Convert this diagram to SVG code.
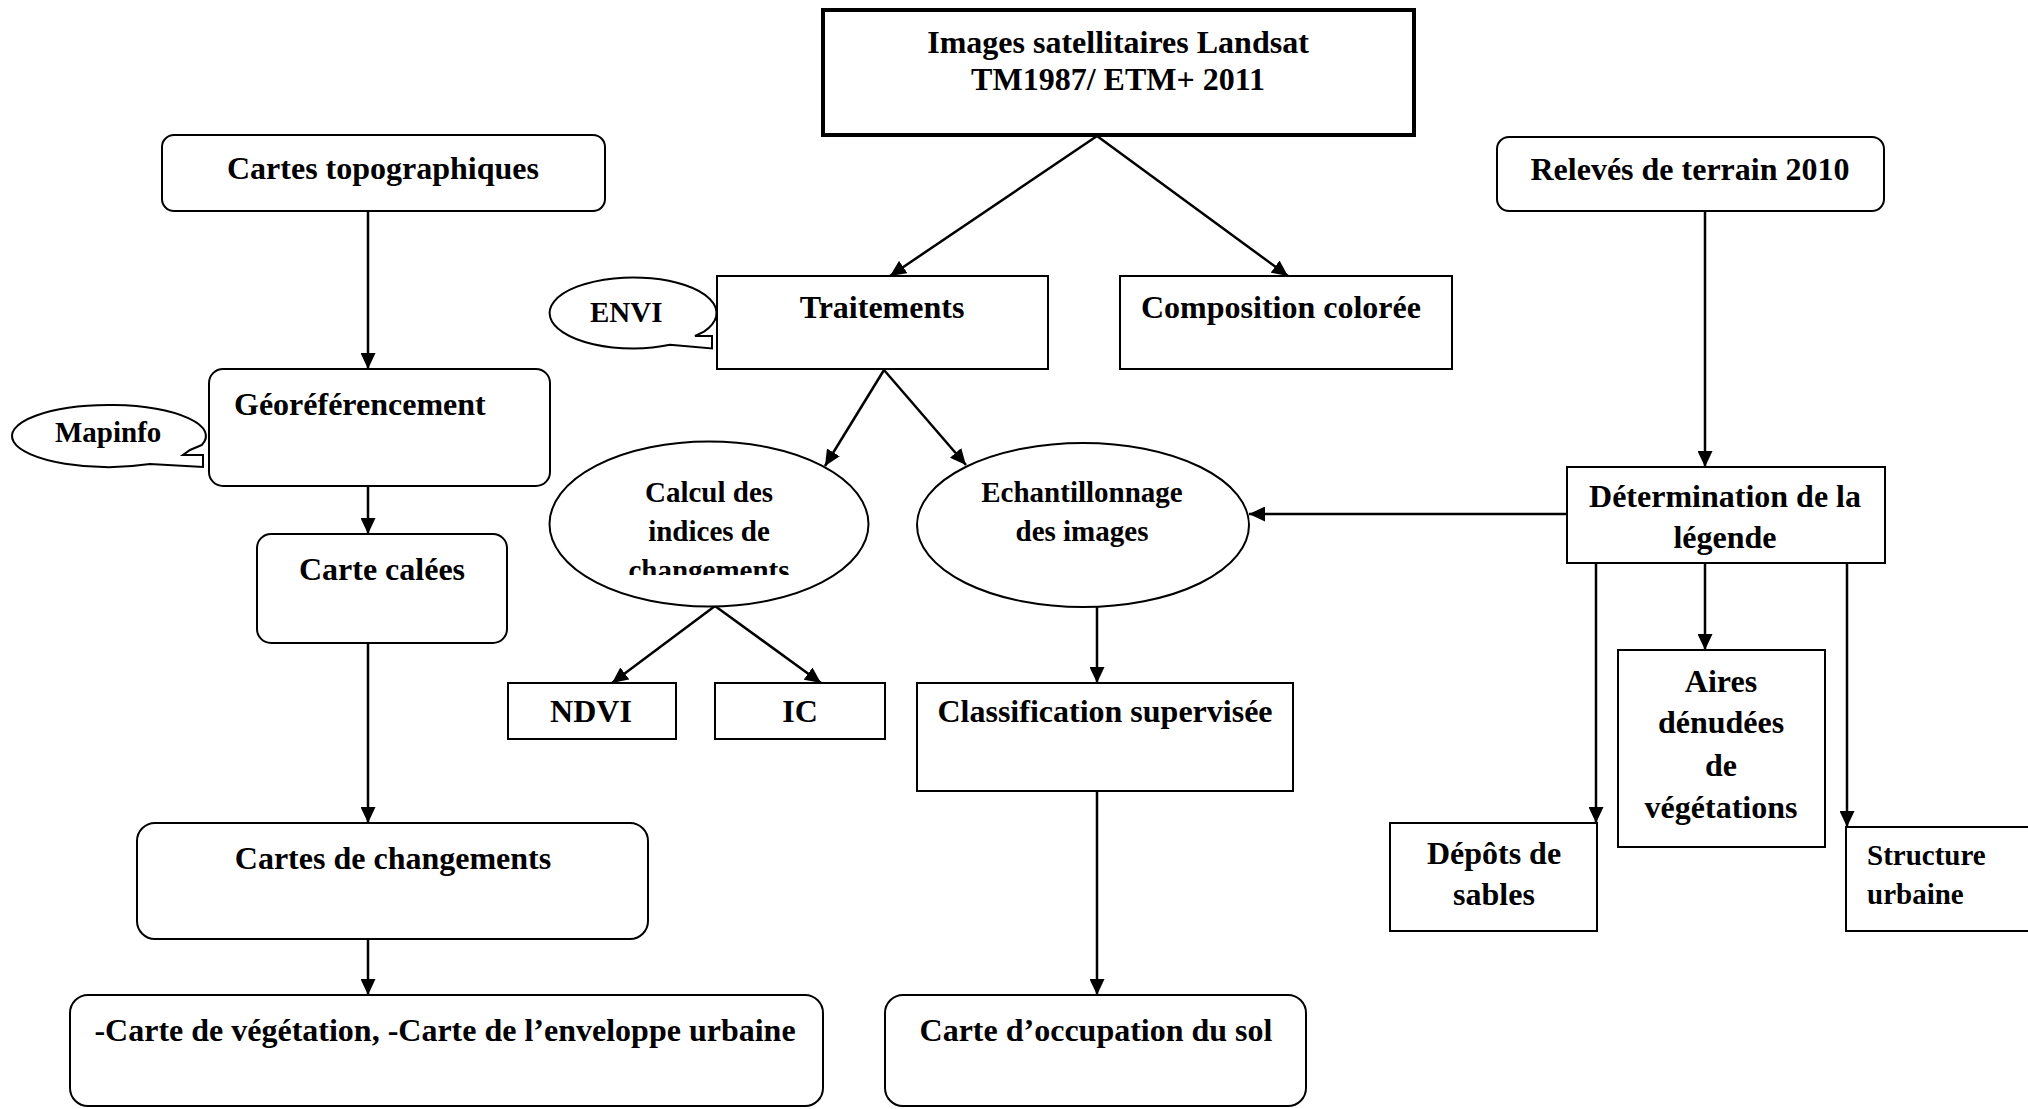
<svg xmlns="http://www.w3.org/2000/svg" width="2028" height="1109" viewBox="0 0 2028 1109">
<style>
.b{fill:#fff;stroke:#000;stroke-width:2}
.t{font-family:"Liberation Serif","Times New Roman",serif;font-weight:bold;font-size:32px;text-anchor:middle;fill:#000}
.s{font-size:29px}
.l{text-anchor:start}
.c line{stroke:#000;stroke-width:2.5;fill:none;marker-end:url(#ah)}
</style>
<defs>
<marker id="ah" markerWidth="16" markerHeight="15" refX="16" refY="7.5" orient="auto" markerUnits="userSpaceOnUse"><path d="M0,0 L16,7.5 L0,15 Z" fill="#000"/></marker>
<clipPath id="clipCalc"><rect x="540" y="440" width="340" height="135"/></clipPath>
</defs>
<rect width="2028" height="1109" fill="#fff"/>

<g id="connectors" class="c">
<line x1="368" y1="211" x2="368" y2="369"/>
<line x1="368" y1="486" x2="368" y2="534"/>
<line x1="368" y1="643" x2="368" y2="823"/>
<line x1="368" y1="939" x2="368" y2="995"/>
<line x1="1097" y1="136" x2="890" y2="276"/>
<line x1="1097" y1="136" x2="1288" y2="276"/>
<line x1="884" y1="370" x2="825" y2="466"/>
<line x1="884" y1="370" x2="966" y2="465"/>
<line x1="715" y1="606" x2="612" y2="683"/>
<line x1="715" y1="606" x2="821" y2="683"/>
<line x1="1097" y1="607" x2="1097" y2="683"/>
<line x1="1097" y1="791" x2="1097" y2="995"/>
<line x1="1705" y1="211" x2="1705" y2="467"/>
<line x1="1567" y1="514" x2="1249" y2="514"/>
<line x1="1596" y1="563" x2="1596" y2="823"/>
<line x1="1705" y1="563" x2="1705" y2="650"/>
<line x1="1847" y1="563" x2="1847" y2="827"/>
</g>

<g id="images">
<rect x="823" y="10" width="591" height="125" fill="#fff" stroke="#000" stroke-width="4"/>
<text class="t" x="1118" y="53">Images satellitaires Landsat</text>
<text class="t" x="1118" y="90">TM1987/ ETM+ 2011</text>
</g>

<g id="cartes-topo">
<rect class="b" x="162" y="135" width="443" height="76" rx="12"/>
<text class="t" x="383" y="179">Cartes topographiques</text>
</g>

<g id="georef">
<rect class="b" x="209" y="369" width="341" height="117" rx="14"/>
<text class="t l" x="234" y="415">Géoréférencement</text>
</g>

<g id="mapinfo">
<path class="b" d="M201.8,445 L190,450 L183,455 L203,455 L203,467 L150,464.1 A97,31 0 1 1 201.8,445 Z"/>
<text class="t s l" x="55" y="442">Mapinfo</text>
</g>

<g id="carte-calees">
<rect class="b" x="257" y="534" width="250" height="109" rx="14"/>
<text class="t" x="382" y="580">Carte calées</text>
</g>

<g id="cartes-changements">
<rect class="b" x="137" y="823" width="511" height="116" rx="18"/>
<text class="t" x="393" y="869">Cartes de changements</text>
</g>

<g id="carte-vegetation">
<rect class="b" x="70" y="995" width="753" height="111" rx="18"/>
<text class="t" x="445" y="1041">-Carte de végétation, -Carte de l’enveloppe urbaine</text>
</g>

<g id="envi">
<path class="b" d="M704,331.7 L695,336 L712,336 L712,348.5 L670,344.8 A83.5,35.5 0 1 1 704,331.7 Z"/>
<text class="t s l" x="590" y="322">ENVI</text>
</g>

<g id="traitements">
<rect class="b" x="717" y="276" width="331" height="93"/>
<text class="t" x="882" y="318">Traitements</text>
</g>

<g id="composition">
<rect class="b" x="1120" y="276" width="332" height="93"/>
<text class="t l" x="1141" y="318">Composition colorée</text>
</g>

<g id="calcul">
<ellipse class="b" cx="709" cy="524" rx="159.5" ry="82.5"/>
<g clip-path="url(#clipCalc)">
<text class="t s" x="709" y="502">Calcul des</text>
<text class="t s" x="709" y="541">indices de</text>
<text class="t s" x="709" y="580">changements</text>
</g>
</g>

<g id="echantillonnage">
<ellipse class="b" cx="1083" cy="525" rx="166" ry="82"/>
<text class="t s" x="1082" y="502">Echantillonnage</text>
<text class="t s" x="1082" y="541">des images</text>
</g>

<g id="ndvi">
<rect class="b" x="508" y="683" width="168" height="56"/>
<text class="t" x="591" y="722">NDVI</text>
</g>

<g id="ic">
<rect class="b" x="715" y="683" width="170" height="56"/>
<text class="t" x="800" y="722">IC</text>
</g>

<g id="classification">
<rect class="b" x="917" y="683" width="376" height="108"/>
<text class="t" x="1105" y="722">Classification supervisée</text>
</g>

<g id="carte-occupation">
<rect class="b" x="885" y="995" width="421" height="111" rx="18"/>
<text class="t" x="1096" y="1041">Carte d’occupation du sol</text>
</g>

<g id="releves">
<rect class="b" x="1497" y="137" width="387" height="74" rx="12"/>
<text class="t" x="1690" y="180">Relevés de terrain 2010</text>
</g>

<g id="determination">
<rect class="b" x="1567" y="467" width="318" height="96"/>
<text class="t" x="1725" y="507">Détermination de la</text>
<text class="t" x="1725" y="548">légende</text>
</g>

<g id="aires">
<rect class="b" x="1618" y="650" width="207" height="197"/>
<text class="t" x="1721" y="692">Aires</text>
<text class="t" x="1721" y="733">dénudées</text>
<text class="t" x="1721" y="776">de</text>
<text class="t" x="1721" y="818">végétations</text>
</g>

<g id="depots">
<rect class="b" x="1390" y="823" width="207" height="108"/>
<text class="t" x="1494" y="864">Dépôts de</text>
<text class="t" x="1494" y="905">sables</text>
</g>

<g id="structure">
<rect class="b" x="1846" y="827" width="190" height="104"/>
<text class="t s l" x="1867" y="865">Structure</text>
<text class="t s l" x="1867" y="904">urbaine</text>
</g>
</svg>
